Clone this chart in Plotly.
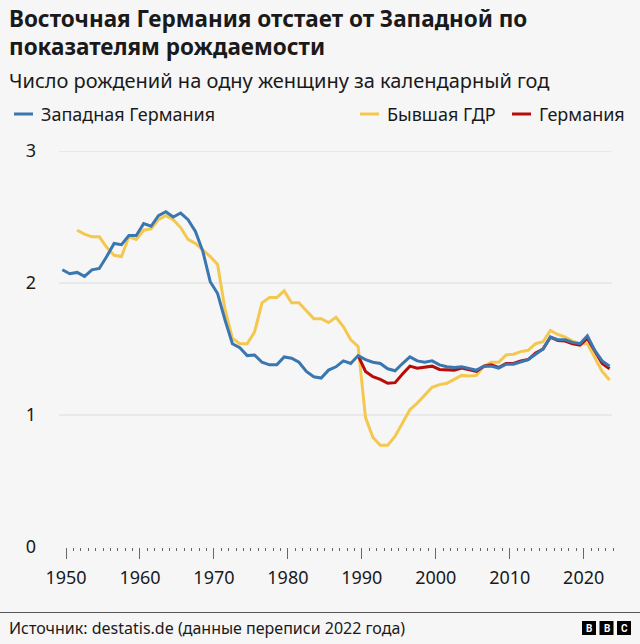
import plotly.graph_objects as go

# ---------------- data ----------------
years_west = list(range(1950, 2025))
west = [2.10, 2.07, 2.08, 2.05, 2.10, 2.11, 2.20, 2.30, 2.29, 2.36,
        2.36, 2.45, 2.43, 2.51, 2.54, 2.50, 2.53, 2.48, 2.39, 2.24,
        2.01, 1.92, 1.72, 1.54, 1.51, 1.45, 1.455, 1.40, 1.38, 1.38,
        1.44, 1.43, 1.40, 1.33, 1.29, 1.28, 1.34, 1.365, 1.41, 1.39,
        1.45, 1.42, 1.40, 1.39, 1.35, 1.335, 1.39, 1.44, 1.41, 1.40,
        1.41, 1.38, 1.365, 1.36, 1.365, 1.355, 1.34, 1.37, 1.37, 1.355,
        1.385, 1.385, 1.40, 1.42, 1.46, 1.50, 1.59, 1.57, 1.57, 1.55,
        1.54, 1.60, 1.49, 1.41, 1.37]

years_east = list(range(1952, 2025))
east = [2.40, 2.37, 2.35, 2.35, 2.27, 2.21, 2.20, 2.35,
        2.33, 2.40, 2.41, 2.48, 2.51, 2.48, 2.42, 2.33, 2.30, 2.25,
        2.20, 2.14, 1.80, 1.58, 1.54, 1.54, 1.63, 1.85, 1.89, 1.89,
        1.94, 1.85, 1.85, 1.79, 1.73, 1.73, 1.70, 1.74, 1.67, 1.57,
        1.52, 0.98, 0.83, 0.77, 0.77, 0.84, 0.94, 1.04, 1.09, 1.15,
        1.21, 1.23, 1.24, 1.27, 1.30, 1.295, 1.30, 1.37, 1.40, 1.40,
        1.455, 1.46, 1.48, 1.49, 1.54, 1.555, 1.64, 1.61, 1.59, 1.56,
        1.54, 1.54, 1.44, 1.33, 1.265]

years_de = list(range(1990, 2025))
germany = [1.45, 1.33, 1.29, 1.27, 1.24, 1.245, 1.31, 1.37, 1.355, 1.36,
           1.37, 1.345, 1.34, 1.34, 1.355, 1.34, 1.33, 1.37, 1.38, 1.36,
           1.39, 1.39, 1.41, 1.42, 1.47, 1.50, 1.59, 1.565, 1.56, 1.54,
           1.53, 1.58, 1.48, 1.39, 1.35]

series_names = ["Западная Германия", "Бывшая ГДР", "Германия"]
x_tick_years = [1950, 1960, 1970, 1980, 1990, 2000, 2010, 2020]
y_ticks = [0, 1, 2, 3]
y_grid = [1, 2, 3]

title_lines = ["Восточная Германия отстает от Западной по", "показателям рождаемости"]
subtitle = "Число рождений на одну женщину за календарный год"
source = "Источник: destatis.de (данные переписи 2022 года)"

# ---------------- style ----------------
W, H = 640, 644
ML, MR, MT, MB = 59, 26, 151, 97
PW, PH = W - ML - MR, H - MT - MB
BG = "#f6f6f6"
C_WEST, C_EAST, C_DE = "#3a77b0", "#f4c84f", "#b80c09"
FONT = "Noto Sans"
TXT = "#1a1a1a"


def px(x):
    return (x - ML) / PW


def py(y):
    return (H - MB - y) / PH


fig = go.Figure()
fig.add_trace(go.Scatter(x=years_east, y=east, mode="lines", name=series_names[1],
                         line=dict(color=C_EAST, width=3), showlegend=False, hoverinfo="skip"))
fig.add_trace(go.Scatter(x=years_de, y=germany, mode="lines", name=series_names[2],
                         line=dict(color=C_DE, width=3), showlegend=False, hoverinfo="skip"))
fig.add_trace(go.Scatter(x=years_west, y=west, mode="lines", name=series_names[0],
                         line=dict(color=C_WEST, width=3), showlegend=False, hoverinfo="skip"))

shapes = []
for g in y_grid:
    shapes.append(dict(type="line", xref="paper", yref="y", x0=0, x1=px(612), y0=g, y1=g,
                       line=dict(color="#dcdcdc", width=1), layer="below"))

annotations = []
# title
annotations.append(dict(text="<b>" + title_lines[0] + "</b>", x=px(7), y=py(18), xref="paper", yref="paper",
                        xanchor="left", yanchor="middle", showarrow=False,
                        font=dict(family=FONT, size=22.5, color=TXT)))
annotations.append(dict(text="<b>" + title_lines[1] + "</b>", x=px(7), y=py(46), xref="paper", yref="paper",
                        xanchor="left", yanchor="middle", showarrow=False,
                        font=dict(family=FONT, size=22.5, color=TXT)))
annotations.append(dict(text=subtitle, x=px(7), y=py(80), xref="paper", yref="paper",
                        xanchor="left", yanchor="middle", showarrow=False,
                        font=dict(family=FONT, size=20, color=TXT)))

# legend (manual)
legend_items = [(series_names[0], C_WEST, 14), (series_names[1], C_EAST, 360), (series_names[2], C_DE, 512)]
for name, col, x0 in legend_items:
    shapes.append(dict(type="line", xref="paper", yref="paper", x0=px(x0), x1=px(x0 + 19),
                       y0=py(114), y1=py(114), line=dict(color=col, width=3)))
    annotations.append(dict(text=name, x=px(x0 + 25), y=py(114), xref="paper", yref="paper",
                            xanchor="left", yanchor="middle", showarrow=False,
                            font=dict(family=FONT, size=18, color=TXT)))

# footer
shapes.append(dict(type="line", xref="paper", yref="paper", x0=px(0), x1=px(W), y0=py(612.5), y1=py(612.5),
                   line=dict(color="#555555", width=1)))
annotations.append(dict(text=source, x=px(7), y=py(628), xref="paper", yref="paper",
                        xanchor="left", yanchor="middle", showarrow=False,
                        font=dict(family=FONT, size=16, color=TXT)))
for i, letter in enumerate("BBC"):
    x0 = 582 + i * 17.5
    shapes.append(dict(type="rect", xref="paper", yref="paper", x0=px(x0), x1=px(x0 + 14),
                       y0=py(621), y1=py(635), fillcolor="#000000", line=dict(width=0)))
    annotations.append(dict(text="<b>" + letter + "</b>", x=px(x0 + 7), y=py(628), xref="paper", yref="paper",
                            xanchor="center", yanchor="middle", showarrow=False,
                            font=dict(family="Roboto", size=10, color="#ffffff")))

fig.update_layout(
    width=W, height=H,
    margin=dict(l=ML, r=MR, t=MT, b=MB, pad=0),
    paper_bgcolor=BG, plot_bgcolor=BG,
    shapes=shapes, annotations=annotations,
    showlegend=False,
    xaxis=dict(range=[1949.55, 2024.6], showgrid=False, zeroline=False, showline=False,
               tickmode="array", tickvals=[t + 0.5 for t in x_tick_years],
               ticktext=[str(t) for t in x_tick_years],
               ticks="outside", ticklen=11, tickwidth=1, tickcolor="#666666",
               tickfont=dict(family=FONT, size=18, color=TXT), ticklabelstandoff=3,
               minor=dict(tickmode="array", tickvals=[y + 0.5 for y in years_west],
                          ticks="outside", ticklen=3, tickwidth=1, tickcolor="#666666", showgrid=False)),
    yaxis=dict(range=[0, 3], showgrid=False, zeroline=False, showline=False,
               tickmode="array", tickvals=y_ticks, ticktext=[str(t) for t in y_ticks],
               ticks="", tickfont=dict(family=FONT, size=18, color=TXT), ticklabelstandoff=22),
)

fig.write_html("out.html")
